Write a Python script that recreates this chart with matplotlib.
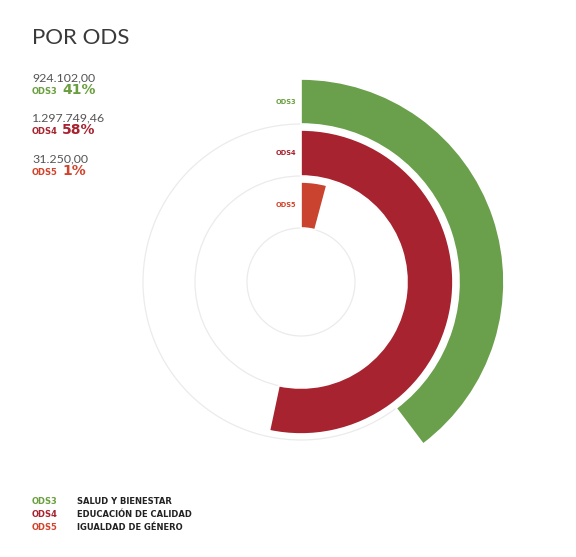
import matplotlib.pyplot as plt
from matplotlib.patches import Wedge, Circle

# datos
codes = ['ODS3', 'ODS4', 'ODS5']
names = ['SALUD Y BIENESTAR', 'EDUCACIÓN DE CALIDAD', 'IGUALDAD DE GÉNERO']
amounts = [924102.00, 1297749.46, 31250.00]
arc_deg = [143, 192, 15]          # extensión de cada arco
colors = ['#6a9f4b', '#a6232f', '#c9432f']
text_colors = ['#6a9f3f', '#a6232f', '#d2432c']

total = sum(amounts)
pcts = [round(a / total * 100) for a in amounts]


def fmt_es(v):
    s = f"{v:,.2f}"
    return s.replace(',', 'X').replace('.', ',').replace('X', '.')


thin = ['Lato', 'DejaVu Sans']
bold = dict(family=['DejaVu Sans'], fontweight='bold', fontstretch='normal')

fig = plt.figure(figsize=(5.76, 5.57), dpi=100)
ax = fig.add_axes([0, 0, 1, 1])
ax.set_xlim(0, 576)
ax.set_ylim(557, 0)
ax.axis('off')

cx, cy = 301, 282
rings = [(158, 203), (106, 152), (54, 100)]   # ODS3 fuera, ODS5 dentro

# pistas grises
for r_in, r_out in rings:
    ax.add_patch(Circle((cx, cy), r_in, fill=False, ec='#ebebeb', lw=0.9))

for i, (r_in, r_out) in enumerate(rings):
    w = Wedge((cx, cy), r_out, -90, -90 + arc_deg[i], width=r_out - r_in,
              fc=colors[i], ec='white', lw=1.2)
    ax.add_patch(w)
    ax.text(cx - 5, cy - (r_in + r_out) / 2, codes[i], color=text_colors[i],
            fontsize=4.8, ha='right', va='center', **bold)

# titulo
ax.text(32, 44, 'POR ODS', fontsize=16, color='#3a3a3a', family=thin,
        va='baseline')

# bloque de cifras
for i in range(3):
    y = 81 + i * 40.5
    ax.text(32, y, fmt_es(amounts[i]), fontsize=8.9, color='#555555',
            family=thin, va='baseline')
    ax.text(32, y + 13, codes[i], fontsize=6, color=text_colors[i],
            va='baseline', **bold)
    ax.text(62, y + 13, f"{pcts[i]}%", fontsize=10, color=text_colors[i],
            va='baseline', **bold)

# leyenda
for i in range(3):
    y = 501 + i * 13.5
    ax.text(32, y, codes[i], fontsize=6, color=text_colors[i],
            va='center', **bold)
    ax.text(77, y, names[i], fontsize=6, color='#222222',
            va='center', **bold)

fig.savefig('out.png', dpi=100)
